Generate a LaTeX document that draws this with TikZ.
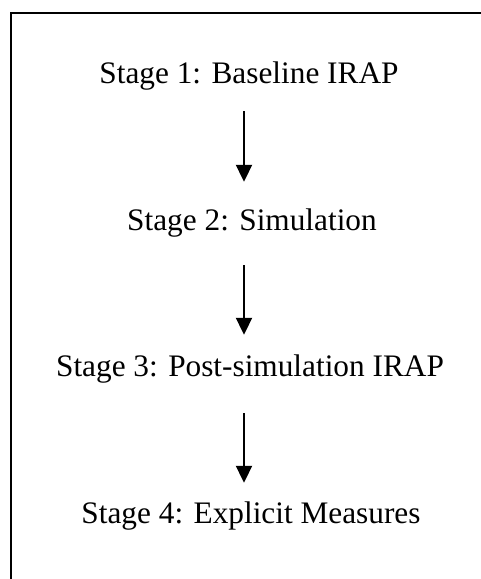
\documentclass[tikz,border=0pt]{standalone}
\usepackage{fontspec}
\setmainfont{Liberation Serif}
\usetikzlibrary{arrows.meta}
\begin{document}
\begin{tikzpicture}[x=1pt,y=-1pt,
  stagelabel/.style={inner sep=0pt,anchor=base,text height=22pt,text depth=7pt,
    font=\fontsize{31.3}{38}\selectfont},
  flow/.style={line width=2pt,-{Triangle[width=16pt,length=17pt]}}]
  \useasboundingbox (0,0) rectangle (481,579);
  % outer frame: only its top and left sides fall inside the page
  \begin{scope}
    \clip (0,0) rectangle (481,579);
    \draw[line width=2pt] (11,590) -- (11,13) -- (490,13);
  \end{scope}
  \node[stagelabel] (s1) at (249,83)  {Stage 1: Baseline IRAP};
  \node[stagelabel] (s2) at (252,230) {Stage 2: Simulation};
  \node[stagelabel] (s3) at (250,376) {Stage 3: Post-simulation IRAP};
  \node[stagelabel] (s4) at (251,523) {Stage 4: Explicit Measures};
  \draw[flow] ([xshift=-5pt,yshift=-21pt]s1.south) -- ([xshift=-8pt,yshift=26pt]s2.north);
  \draw[flow] ([xshift=-8pt,yshift=-28pt]s2.south) -- ([xshift=-6pt,yshift=19pt]s3.north);
  \draw[flow] ([xshift=-6pt,yshift=-30pt]s3.south) -- ([xshift=-7pt,yshift=18pt]s4.north);
\end{tikzpicture}
\end{document}
